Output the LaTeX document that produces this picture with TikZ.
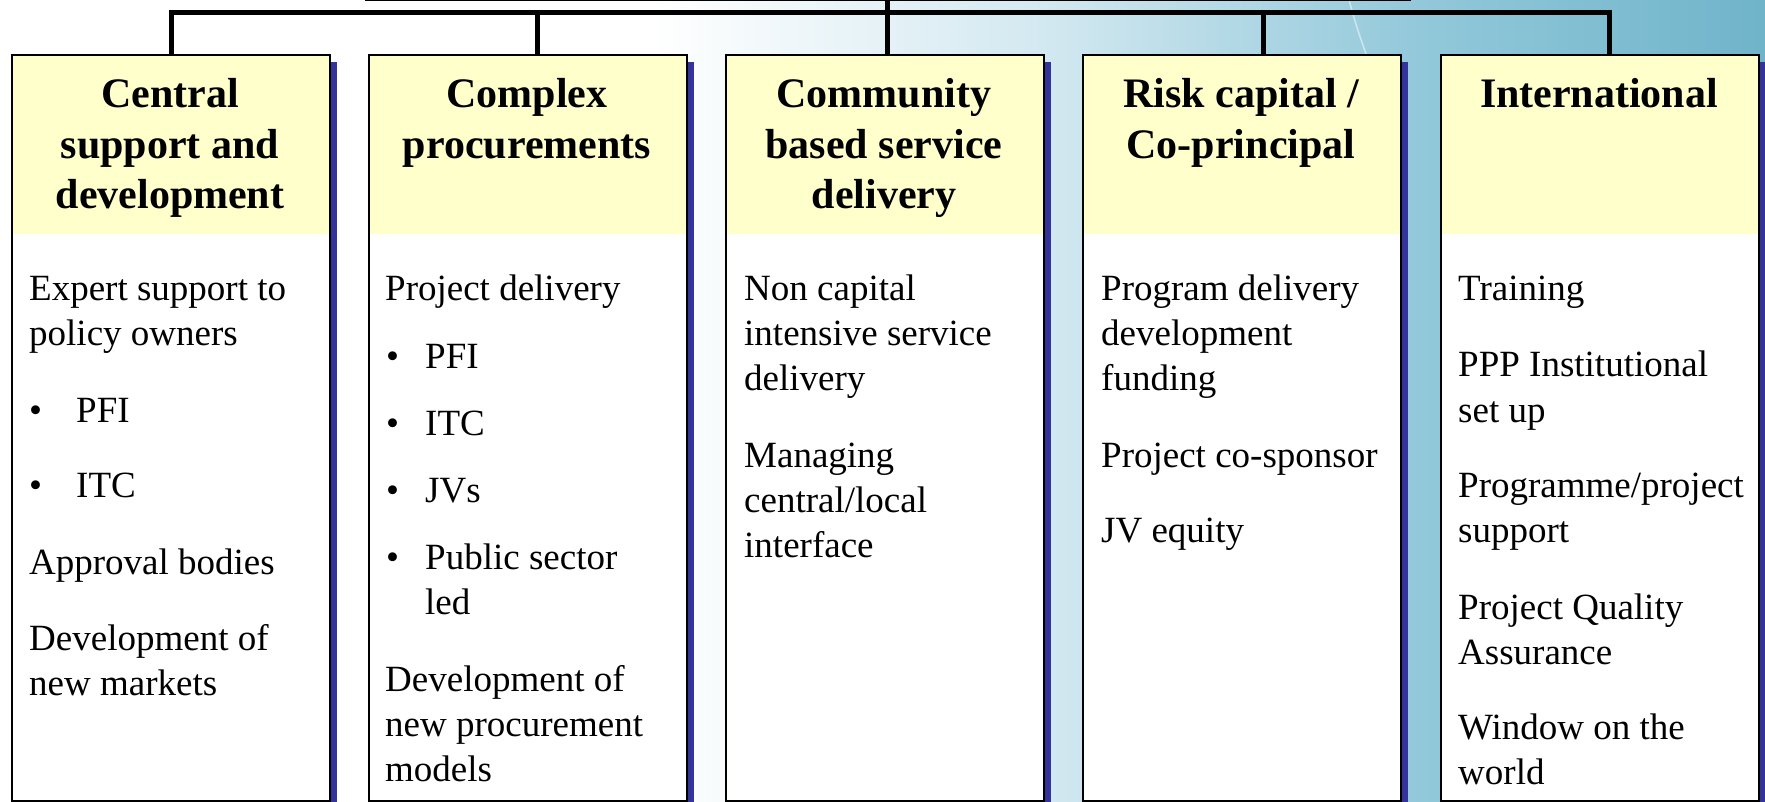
\documentclass[tikz,border=0pt]{standalone}
\usepackage{fontspec}
\setmainfont{Liberation Serif}
\usetikzlibrary{shadows}
\definecolor{hdrcol}{HTML}{FFFFCC}
\definecolor{shdcol}{HTML}{333399}
\definecolor{bgA}{HTML}{D2E8F0}
\definecolor{bgB}{HTML}{92C8DA}
\definecolor{bgC}{HTML}{70B4CA}
\begin{document}
\begin{tikzpicture}[x=1pt,y=-1pt,
  colbox/.style={draw=black, line width=2pt, fill=white, minimum width=318pt,
    minimum height=746pt, anchor=north west, inner sep=0pt,
    drop shadow={shadow xshift=7pt, shadow yshift=-7pt, fill=shdcol, opacity=1},
    path picture={\fill[hdrcol] (path picture bounding box.north west) rectangle ([yshift=-179pt]path picture bounding box.north east);}},
  conn/.style={line width=5pt, line join=miter},
  hd/.style={font=\fontsize{42pt}{50pt}\selectfont\bfseries, anchor=base, inner sep=0pt},
  bt/.style={font=\fontsize{37pt}{45pt}\selectfont, anchor=base west, inner sep=0pt},
]
\useasboundingbox (0,0) rectangle (1765,802);
% background
\fill[white] (0,0) rectangle (651,802);
\shade[left color=white, right color=bgA] (650,0) rectangle (1051,802);
\shade[left color=bgA, right color=bgB] (1050,0) rectangle (1421,802);
\shade[left color=bgB, right color=bgC] (1420,0) rectangle (1765,802);
\draw[white, opacity=0.5, line width=1.5pt] (1349,0) .. controls (1356,25) .. (1366,54);

% parent box (cut off at top)
\node[draw=black, line width=2pt, minimum width=1044pt, minimum height=60pt, anchor=south west, inner sep=0pt] (par) at (365,1) {};

% boxes
\node[colbox] (b1) at (11,54) {};
\node[colbox] (b2) at (368,54) {};
\node[colbox] (b3) at (725,54) {};
\node[colbox] (b4) at (1082,54) {};
\node[colbox] (b5) at (1440,54) {};

% connectors
\coordinate (bus) at (0,13);
\coordinate (k2) at ([xshift=9pt]b2.north);
\coordinate (k3) at ([xshift=2pt]b3.north);
\coordinate (k4) at ([xshift=21pt]b4.north);
\coordinate (k5) at ([xshift=9pt]b5.north);
\draw[conn] (b1.north) -- (b1.north |- bus) -- (k5 |- bus) -- (k5);
\draw[conn] (k2 |- bus) -- (k2);
\draw[conn] (par.south -| k3) -- (k3);
\draw[conn] (k4 |- bus) -- (k4);

% headings
\node[hd] (h1a) at (170,108) {Central};
\node[hd] (h1b) at (170,158.5) {support and};
\node[hd] (h1c) at (170,209) {development};
\node[hd] (h2a) at (527,108) {Complex};
\node[hd] (h2b) at (527,158.5) {procurements};
\node[hd] (h3a) at (884,108) {Community};
\node[hd] (h3b) at (884,158.5) {based service};
\node[hd] (h3c) at (884,209) {delivery};
\node[hd] (h4a) at (1241,108) {Risk capital /};
\node[hd] (h4b) at (1241,158.5) {Co-principal};
\node[hd] (h5a) at (1599,108) {International};

% box 1 body
\node[bt] (t1a) at (29,301) {Expert support to};
\node[bt] (t1b) at (29,346) {policy owners};
\node[bt] (t1c) at (29,422) {•};
\node[bt] (t1d) at (76,422) {PFI};
\node[bt] (t1e) at (29,497) {•};
\node[bt] (t1f) at (76,497) {ITC};
\node[bt] (t1g) at (29,574) {Approval bodies};
\node[bt] (t1h) at (29,650) {Development of};
\node[bt] (t1i) at (29,695) {new markets};

% box 2 body
\node[bt] (t2a) at (385,301) {Project delivery};
\node[bt] (t2b) at (386,368) {•};
\node[bt] (t2c) at (425,368) {PFI};
\node[bt] (t2d) at (386,435) {•};
\node[bt] (t2e) at (425,435) {ITC};
\node[bt] (t2f) at (386,502) {•};
\node[bt] (t2g) at (425,502) {JVs};
\node[bt] (t2h) at (386,569) {•};
\node[bt] (t2i) at (425,569) {Public sector};
\node[bt] (t2j) at (425,614) {led};
\node[bt] (t2k) at (385,691) {Development of};
\node[bt] (t2l) at (385,736) {new procurement};
\node[bt] (t2m) at (385,781) {models};

% box 3 body
\node[bt] (t3a) at (744,301) {Non capital};
\node[bt] (t3b) at (744,346) {intensive service};
\node[bt] (t3c) at (744,391) {delivery};
\node[bt] (t3d) at (744,467) {Managing};
\node[bt] (t3e) at (744,512) {central/local};
\node[bt] (t3f) at (744,557) {interface};

% box 4 body
\node[bt] (t4a) at (1101,301) {Program delivery};
\node[bt] (t4b) at (1101,346) {development};
\node[bt] (t4c) at (1101,391) {funding};
\node[bt] (t4d) at (1101,467) {Project co-sponsor};
\node[bt] (t4e) at (1101,542) {JV equity};

% box 5 body
\node[bt] (t5a) at (1458,301) {Training};
\node[bt] (t5b) at (1458,377) {PPP Institutional};
\node[bt] (t5c) at (1458,422) {set up};
\node[bt] (t5d) at (1458,497) {Programme/project};
\node[bt] (t5e) at (1458,542) {support};
\node[bt] (t5f) at (1458,619) {Project Quality};
\node[bt] (t5g) at (1458,664) {Assurance};
\node[bt] (t5h) at (1458,739) {Window on the};
\node[bt] (t5i) at (1458,784) {world};
\end{tikzpicture}
\end{document}
